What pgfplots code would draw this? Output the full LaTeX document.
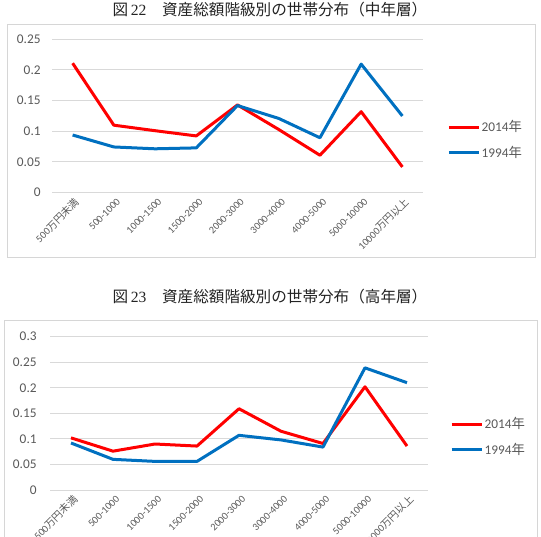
\documentclass[border=0pt]{standalone}
\usepackage{pgfplots}
\pgfplotsset{compat=1.18}
\usepackage{fontspec}
\setmainfont{Carlito}
\newfontfamily\cjk{Noto Sans CJK JP}
\newfontfamily\serif{Liberation Serif}

\definecolor{exred}{RGB}{255,0,0}
\definecolor{exblue}{RGB}{0,112,192}
\definecolor{gridgray}{RGB}{217,217,217}
\definecolor{labelgray}{RGB}{89,89,89}
\definecolor{framegray}{RGB}{214,214,214}
\definecolor{titlegray}{RGB}{35,35,35}

% household share by total-assets bracket
\pgfplotstableread{
x  y2014  y1994
0  0.211  0.094
1  0.110  0.0745
2  0.101  0.0715
3  0.0925 0.073
4  0.143  0.142
5  0.103  0.121
6  0.061  0.0895
7  0.132  0.2095
8  0.042  0.125
}\middleage
\pgfplotstableread{
x  y2014  y1994
0  0.102  0.092
1  0.076  0.060
2  0.090  0.056
3  0.086  0.056
4  0.159  0.107
5  0.115  0.098
6  0.091  0.084
7  0.202  0.239
8  0.086  0.210
}\oldage

\pgfplotsset{
  agechart/.style={
    scale only axis,
    xmin=-0.5, xmax=8.5,
    ymin=0,
    axis line style={draw=none},
    tick style={draw=none},
    ymajorgrids,
    grid style={gridgray, line width=0.75pt},
    xtick={0,...,8},
    xticklabels={500{\cjk 万円未満},500-1000,1000-1500,1500-2000,2000-3000,3000-4000,4000-5000,5000-10000,10000{\cjk 万円以上}},
    xticklabel style={rotate=45, anchor=east, font=\fontsize{7.7}{8}\selectfont, text=labelgray, xshift=2pt, yshift=-6.5pt},
    yticklabel style={font=\fontsize{10}{12}\selectfont, text=labelgray},
    /pgf/number format/assume math mode=true,
    /pgf/number format/fixed,
    legend cell align=left,
    legend style={draw=none, fill=none, inner sep=0pt, font=\fontsize{10}{12}\selectfont, text=labelgray, anchor=west, row sep=7pt, nodes={inner sep=1pt}},
    legend image code/.code={\draw[##1] (0pt,0pt) -- (22.5pt,0pt);},
    every axis plot/.append style={line width=2.25pt, line join=round},
    clip=false,
  },
}

\begin{document}
\begin{tikzpicture}
\path[use as bounding box, clip] (0pt,0pt) rectangle (405.75pt,-402pt);

% ---- middle-aged households ----
\node[font=\fontsize{11.7}{13}\selectfont, text=titlegray] at (202.5pt,-7pt)
  {{\cjk 図}\,{\serif 22}{\cjk 　資産総額階級別の世帯分布（中年層）}};
\draw[framegray, line width=0.75pt] (5.25pt,-18pt) rectangle (401.25pt,-192.75pt);
\begin{axis}[agechart,
  at={(39pt,-144.5pt)}, anchor=south west,
  width=278.25pt, height=115.05pt,
  ymax=0.25, ytick={0,0.05,0.1,0.15,0.2,0.25},
  yticklabel style={xshift=-5pt},
  legend style={at={(1.065,0.344)}},
]
\addplot[exred] table[x=x, y=y2014] {\middleage};
\addlegendentry{2014{\cjk 年}}
\addplot[exblue] table[x=x, y=y1994] {\middleage};
\addlegendentry{1994{\cjk 年}}
\end{axis}

% ---- elderly households ----
\node[font=\fontsize{11.7}{13}\selectfont, text=titlegray] at (202.5pt,-222.5pt)
  {{\cjk 図}\,{\serif 23}{\cjk 　資産総額階級別の世帯分布（高年層）}};
\draw[framegray, line width=0.75pt] (3pt,-240pt) rectangle (402.75pt,-410pt);
\begin{axis}[agechart,
  at={(37.5pt,-367.5pt)}, anchor=south west,
  width=283.5pt, height=115pt,
  ymax=0.3, ytick={0,0.05,0.1,0.15,0.2,0.25,0.3},
  yticklabel style={xshift=-6.5pt},
  legend style={at={(1.058,0.346)}},
]
\addplot[exred] table[x=x, y=y2014] {\oldage};
\addlegendentry{2014{\cjk 年}}
\addplot[exblue] table[x=x, y=y1994] {\oldage};
\addlegendentry{1994{\cjk 年}}
\end{axis}
\end{tikzpicture}
\end{document}
